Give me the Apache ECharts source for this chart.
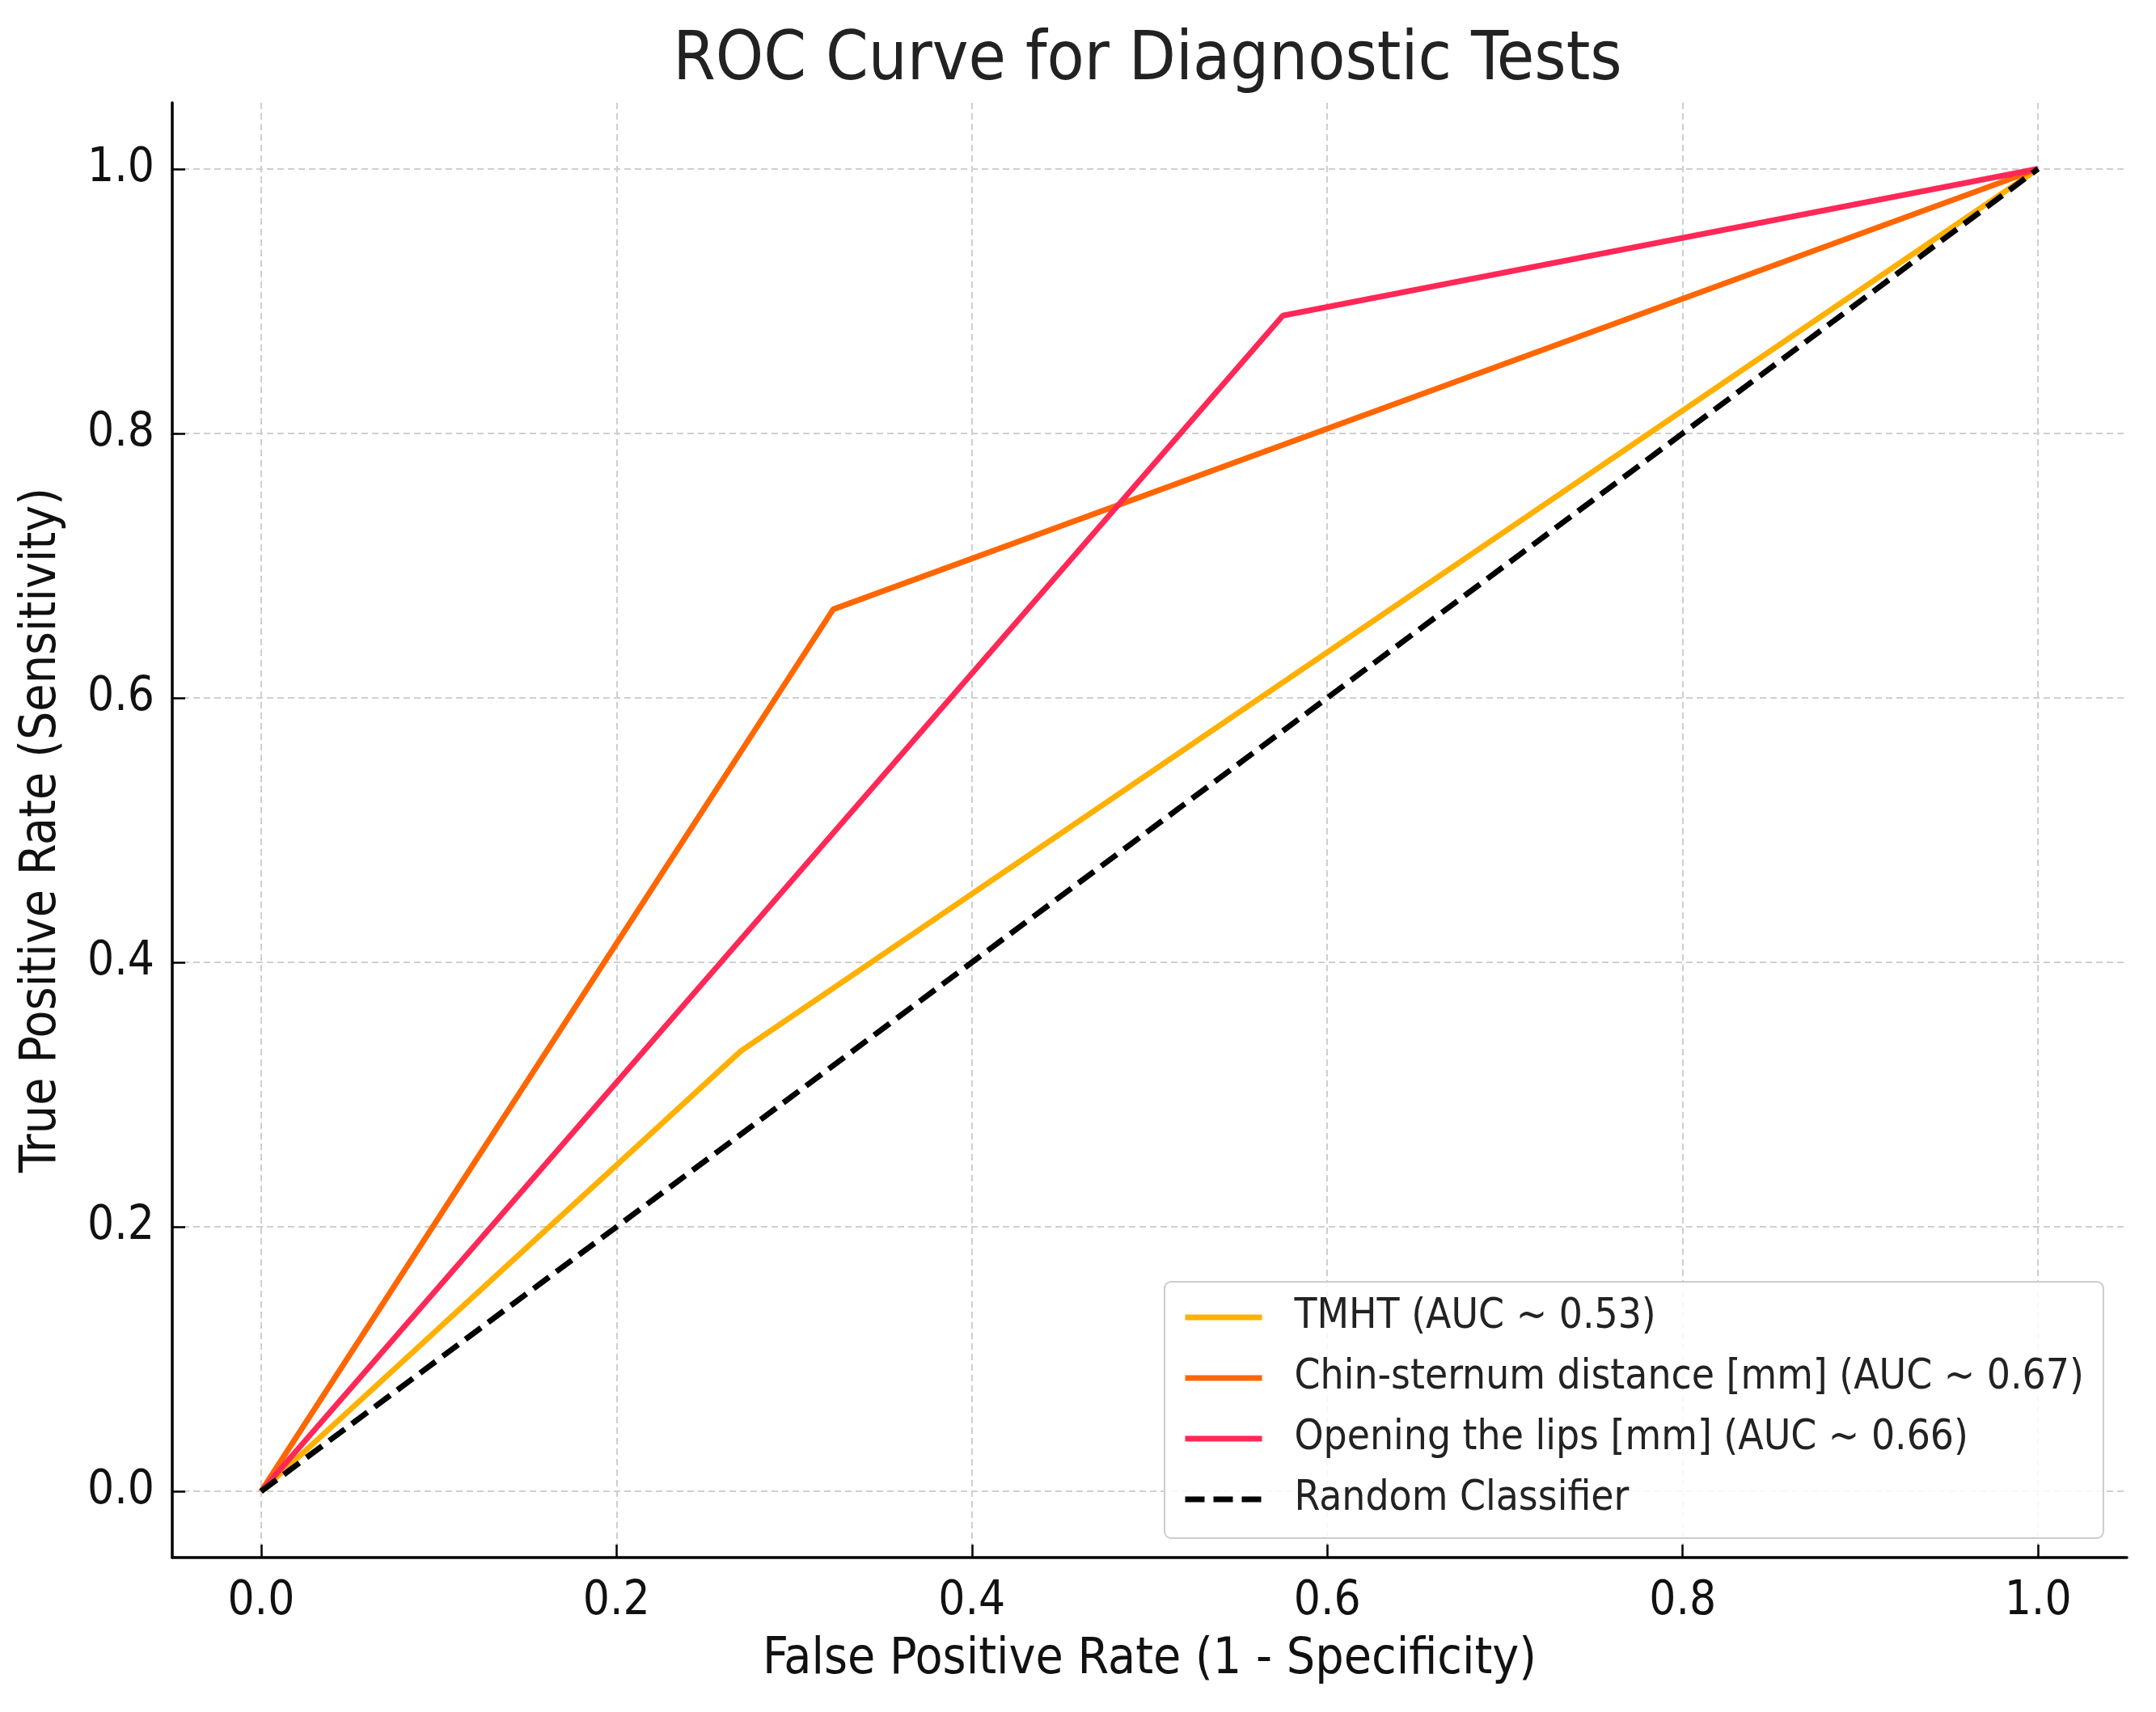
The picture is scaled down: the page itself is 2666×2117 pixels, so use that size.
<!DOCTYPE html>
<html>
<head>
<meta charset="utf-8">
<script src="https://cdn.jsdelivr.net/npm/echarts@6/dist/echarts.min.js"></script>
<style>
html, body { margin: 0; padding: 0; background: #fff; }
#chart { width: 2666px; height: 2117px; }
</style>
</head>
<body>
<div id="chart"></div>
<script>
// ROC points
var tmhtFpr = [0, 0.27, 1];
var tmhtTpr = [0, 0.333, 1];
var chinFpr = [0, 0.322, 1];
var chinTpr = [0, 0.667, 1];
var lipsFpr = [0, 0.575, 1];
var lipsTpr = [0, 0.889, 1];
var randFpr = [0, 1];
var randTpr = [0, 1];

var names = [
    'TMHT (AUC ~ 0.53)',
    'Chin-sternum distance [mm] (AUC ~ 0.67)',
    'Opening the lips [mm] (AUC ~ 0.66)',
    'Random Classifier'
];
var tickValues = [0, 0.2, 0.4, 0.6, 0.8, 1.0];

var FONT = "'DejaVu Sans Condensed', 'DejaVu Sans', sans-serif";

function pairs(xs, ys) {
    var out = [];
    for (var i = 0; i < xs.length; i++) out.push([xs[i], ys[i]]);
    return out;
}

function lineSeries(name, xs, ys, color, type) {
    return {
        name: name,
        type: 'line',
        data: pairs(xs, ys),
        symbol: 'none',
        color: color,
        lineStyle: { color: color, width: 7, type: type || 'solid' },
        animation: false
    };
}

function axisCommon() {
    return {
        type: 'value',
        min: -0.05,
        max: 1.05,
        axisLine: { show: true, onZero: false, lineStyle: { color: '#000', width: 3.5 } },
        axisTick: {
            show: true, inside: true, length: 16,
            lineStyle: { color: '#000', width: 2.5 },
            customValues: tickValues
        },
        axisLabel: {
            customValues: tickValues,
            fontFamily: FONT, fontSize: 58, color: '#111',
            formatter: function (v) { return v.toFixed(1); }
        },
        splitLine: {
            show: true,
            lineStyle: { color: '#cfcfcf', width: 2, type: [8, 5] }
        },
        nameLocation: 'middle',
        nameTextStyle: { fontFamily: FONT, fontSize: 62, color: '#111' }
    };
}

var xAxis = axisCommon();
xAxis.name = 'False Positive Rate (1 - Specificity)';
xAxis.nameGap = 96;
xAxis.axisLabel.margin = 26;

var yAxis = axisCommon();
yAxis.name = 'True Positive Rate (Sensitivity)';
yAxis.nameGap = 130;
yAxis.axisLabel.margin = 22;

var option = {
    backgroundColor: '#fff',
    animation: false,
    title: {
        text: 'ROC Curve for Diagnostic Tests',
        left: 1414,
        textAlign: 'center',
        top: 29,
        textStyle: { fontFamily: FONT, fontSize: 84, fontWeight: 'normal', color: '#222' }
    },
    grid: { left: 213, right: 36, top: 127, bottom: 191, containLabel: false },
    xAxis: xAxis,
    yAxis: yAxis,
    legend: {
        data: names,
        orient: 'vertical',
        left: 1440,
        top: 1585,
        padding: [14, 24, 18, 22],
        itemWidth: 95,
        itemHeight: 20,
        itemGap: 15,
        itemStyle: { opacity: 0, borderWidth: 0 },
        lineStyle: { width: 7 },
        backgroundColor: 'rgba(255,255,255,0.85)',
        borderColor: '#cccccc',
        borderWidth: 2,
        borderRadius: 8,
        textStyle: {
            fontFamily: FONT, fontSize: 51, color: '#222',
            lineHeight: 56, padding: [4, 0, 0, 35]
        }
    },
    series: [
        lineSeries(names[0], tmhtFpr, tmhtTpr, '#FFB000'),
        lineSeries(names[1], chinFpr, chinTpr, '#FF6600'),
        lineSeries(names[2], lipsFpr, lipsTpr, '#FF2857'),
        lineSeries(names[3], randFpr, randTpr, '#000000', [24, 11])
    ]
};

var myChart = echarts.init(document.getElementById('chart'));
myChart.setOption(option);

window.onresize = function () {
    myChart.resize();
};
</script>
</body>
</html>
